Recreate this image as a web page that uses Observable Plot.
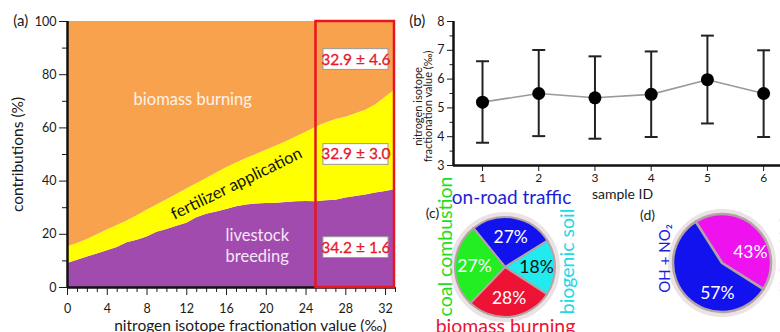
<!DOCTYPE html>
<html><head><meta charset="utf-8">
<script src="https://cdn.jsdelivr.net/npm/d3@7"></script>
<script src="https://cdn.jsdelivr.net/npm/@observablehq/plot@0.6"></script>
<style>
html,body{margin:0;padding:0;background:#fff;}
#fig{position:relative;width:780px;height:332px;overflow:hidden;font-family:Lato,sans-serif;}
#fig svg{position:absolute;overflow:visible;background:transparent;}
</style></head><body><div id="fig"></div>
<script>
// ---------------- DATA ----------------
// (a) source contributions (%) vs nitrogen isotope fractionation value
const fracValue = [0,1,2,3,4,5,6,7,8,9,10,11,12,13,14,15,16,17,18,19,20,21,22,23,24,25,26,27,28,29,30,31,32,33];
const livestockShare  = [9.0,10.2,11.5,12.6,13.8,15.0,16.8,17.8,19.0,20.8,21.8,23.0,24.2,26.2,27.5,28.4,29.3,30.4,31.0,31.4,31.6,31.7,32.0,32.2,32.3,32.2,32.6,32.8,33.6,34.2,34.8,35.5,36.1,36.8];
const fertilizerShare = [6.3,6.3,6.5,7.2,7.8,8.3,8.2,9.2,10.0,10.2,11.2,12.0,12.8,12.8,13.5,14.6,15.7,16.4,17.5,18.6,20.0,21.5,22.8,24.4,26.1,28.0,29.2,30.4,30.4,31.1,31.8,33.1,35.4,37.5];
const biomassShare    = [84.7,83.5,82.0,80.2,78.4,76.7,75.0,73.0,71.0,69.0,67.0,65.0,63.0,61.0,59.0,57.0,55.0,53.2,51.5,50.0,48.4,46.8,45.2,43.4,41.6,39.8,38.2,36.8,36.0,34.7,33.4,31.4,28.5,25.7];
const sourceNames  = ["livestock breeding","fertilizer application","biomass burning"];
const sourceColors = ["#a14bae","#ffff00","#f8a24e"];
const aYTicks = [0,20,40,60,80,100];
const aXTicks = [0,4,8,12,16,20,24,28,32];
// highlighted range results (mean ± sd), top to bottom: biomass, fertilizer, livestock
const rangeMean = [32.9,32.9,34.2];
const rangeSd   = [4.6,3.0,1.6];

// (b) nitrogen isotope fractionation value per sample
const sampleId  = [1,2,3,4,5,6];
const fracMean  = [5.20,5.50,5.35,5.47,5.98,5.50];
const fracLow   = [3.79,4.02,3.93,3.99,4.46,3.99];
const fracHigh  = [6.62,7.01,6.79,6.96,7.51,7.00];
const bYTicks = [3,4,5,6,7,8];

// (c) NOx source shares (%)
const noxSources = ["on-road traffic","biogenic soil","biomass burning","coal combustion"];
const noxShare   = [27,18,28,27];
const noxColors  = ["#1212ee","#22eaee","#ee1234","#22ee22"];
const noxText    = ["#1e1ed8","#22d8e6","#ee1234","#22dd22"];

// (d) nitrate formation pathway shares (%)
const pathways     = ["N₂O₅ + H₂O","OH + NO₂"];
const pathwayShare = [43,57];
const pathColors   = ["#ee12ee","#1212ee"];

// ---------------- LAYOUT ----------------
const fig = document.getElementById("fig");
const baseStyle = {fontFamily:"Lato, sans-serif", fontSize:"12px", color:"#1a1a1a", background:"transparent", overflow:"visible"};
function place(svg, left, top){ svg.style.left = left+"px"; svg.style.top = top+"px"; fig.appendChild(svg); }

// ---- panel (a)
const longA = [];
sourceNames.forEach((s,k)=>{
  const vals = [livestockShare, fertilizerShare, biomassShare][k];
  fracValue.forEach((x,i)=> longA.push({x, source:s, share: vals[i]}));
});
const boxes = sourceNames.slice().reverse().map((s,i)=>({source:s, label:`${rangeMean[i].toFixed(1)} ± ${rangeSd[i].toFixed(1)}`}));
const boxY = [85.7, 50.0, 15.0];
boxes.forEach((b,i)=> b.y = boxY[i]);

const plotA = Plot.plot({
  width: 396, height: 332,
  marginLeft: 67, marginTop: 21, marginBottom: 45, marginRight: 1,
  x: {domain:[0,33], axis:null},
  y: {domain:[0,100], axis:null},
  color: {domain: sourceNames, range: sourceColors},
  style: baseStyle,
  marks: [
    Plot.areaY(longA, {x:"x", y:"share", fill:"source", z:"source"}),
    Plot.axisY(aYTicks, {tickSize:8, tickPadding:3, fontSize:12.5, label:null}),
    Plot.axisY([10,30,50,70,90], {tickSize:5, tickFormat:()=>"", label:null}),
    Plot.axisX(aXTicks, {tickSize:8, tickPadding:9, fontSize:12.5, label:null}),
    Plot.axisX(fracValue.filter(v=>v%4), {tickSize:5, tickFormat:()=>"", label:null}),
    Plot.ruleX([0], {strokeWidth:2.5, stroke:"#111"}),
    Plot.ruleY([0], {strokeWidth:2.5, stroke:"#111"}),
    Plot.rect([0], {x1:25, x2:33, y1:0, y2:100, stroke:"#e8141e", strokeWidth:2.5, fill:"none", insetRight:1}),
    Plot.rect(boxes, {x1:25.75, x2:32.3, y1:d=>d.y-3.9, y2:d=>d.y+3.9, fill:"white", stroke:"#9a9a9a", strokeWidth:1}),
    Plot.text(boxes, {x:29.02, y:"y", text:"label", fill:"#e8192c", fontSize:15.5, stroke:"#e8192c", strokeWidth:0.3}),
    Plot.text(["biomass burning"], {x:12.6, y:70.7, fill:"#fdf3ea", fontSize:16.5}),
    Plot.text(["fertilizer application"], {x:17.0, y:39.0, rotate:-26, fill:"#111", fontSize:16.5}),
    Plot.text(["livestock\nbreeding"], {x:15.9, y:16.0, textAnchor:"start", lineHeight:1.25, fill:"#f6e6f6", fontSize:16.5}),
    Plot.text(["contributions (%)"], {x:-4.95, y:50, rotate:-90, fontSize:15.5, fill:"#1a1a1a"}),
    Plot.text(["nitrogen isotope fractionation value (‰)"], {x:18.4, y:-14.3, fontSize:15.5, fill:"#1a1a1a"}),
    Plot.text(["(a)"], {x:-4.7, y:100, fontSize:15, fill:"#1a1a1a"})
  ]
});
place(plotA, 0, 0);

// ---- panel (b)
const rowsB = sampleId.map((id,i)=>({id, mean:fracMean[i], low:fracLow[i], high:fracHigh[i]}));
const xDomB = [0.484, 6.30];
const capHalf = 0.115;
const plotB = Plot.plot({
  width: 390, height: 200,
  marginLeft: 63, marginTop: 21, marginBottom: 35, marginRight: 0,
  x: {domain:xDomB, axis:null},
  y: {domain:[3,8], axis:null},
  style: baseStyle,
  marks: [
    Plot.axisY(bYTicks, {tickSize:6, tickPadding:3, fontSize:12.5, label:null}),
    Plot.axisY([3.5,4.5,5.5,6.5,7.5], {tickSize:3.5, tickFormat:()=>"", label:null}),
    Plot.axisX(sampleId, {tickSize:6, tickPadding:2, fontSize:12, label:null}),
    Plot.ruleX([xDomB[0]], {strokeWidth:2.5, stroke:"#111"}),
    Plot.ruleY([3], {strokeWidth:2.5, stroke:"#111"}),
    Plot.line(rowsB, {x:"id", y:"mean", stroke:"#9a9a9a", strokeWidth:1.6}),
    Plot.ruleX(rowsB, {x:"id", y1:"low", y2:"high", stroke:"#222", strokeWidth:2}),
    Plot.link(rowsB, {x1:d=>d.id-capHalf, x2:d=>d.id+capHalf, y1:"high", y2:"high", stroke:"#222", strokeWidth:2}),
    Plot.link(rowsB, {x1:d=>d.id-capHalf, x2:d=>d.id+capHalf, y1:"low", y2:"low", stroke:"#222", strokeWidth:2}),
    Plot.dot(rowsB, {x:"id", y:"mean", r:6.5, fill:"#000"}),
    Plot.text(["sample ID"], {x:3.49, y:1.98, fontSize:14, fill:"#1a1a1a"}),
    Plot.text(["nitrogen isotope\nfractionation value (‰)"], {x:-0.05, y:5.05, rotate:-90, lineHeight:0.95, fontSize:11, fill:"#1a1a1a"}),
    Plot.text(["(b)"], {x:-0.16, y:8, fontSize:15, fill:"#1a1a1a"})
  ]
});
place(plotB, 390, 0);

// ---- pie helper (a render-only Plot mark)
function pieMark(values, colors, {cx, cy, r, startDeg, sepWidth}) {
  return (index, scales) => {
    const X = scales && scales.x ? scales.x(cx) : cx;
    const Y = scales && scales.y ? scales.y(cy) : cy;
    const a0 = startDeg*Math.PI/180;
    const arcs = d3.pie().sort(null).startAngle(a0).endAngle(a0+2*Math.PI)(values);
    const arc = d3.arc().innerRadius(0).outerRadius(r);
    const g = d3.create("svg:g").attr("transform", `translate(${X},${Y})`);
    g.append("circle").attr("r", r+2.5).attr("fill","none").attr("stroke","#ebe3e3").attr("stroke-width",5);
    g.selectAll("path").data(arcs).join("path")
      .attr("d", arc).attr("fill",(d,i)=>colors[i])
      .attr("stroke","#b3a3a5").attr("stroke-width",sepWidth).attr("stroke-linejoin","round");
    return g.node();
  };
}
function pieLabels(values, {cx, cy, rl, startDeg, angles}) {
  const a0 = startDeg*Math.PI/180;
  const arcs = d3.pie().sort(null).startAngle(a0).endAngle(a0+2*Math.PI)(values);
  return arcs.map((d,i)=>{
    const a = angles ? angles[i]*Math.PI/180 : (d.startAngle+d.endAngle)/2;
    return {x: cx + rl*Math.sin(a), y: cy - rl*Math.cos(a), text: `${values[i]}%`, i};
  });
}

// ---- panel (c)
const W = 180, H = 162;
const pieC = {cx:105, cy:97, r:50, startDeg:-39, sepWidth:2};
const labC = pieLabels(noxShare, {...pieC, rl:31});
const plotC = Plot.plot({
  width: W, height: H, margin: 0,
  x: {domain:[0,W], range:[0,W], axis:null},
  y: {domain:[0,H], range:[0,H], axis:null},
  style: baseStyle,
  marks: [
    pieMark(noxShare, noxColors, pieC),
    Plot.text(labC, {x:"x", y:"y", text:"text", fontSize:17.5, fill:d=> noxSources[d.i]==="biogenic soil" ? "#111" : "#fff"}),
    Plot.text([noxSources[0]], {x:111, y:27, fill:noxText[0], fontSize:19}),
    Plot.text([noxSources[1]], {x:167, y:91, rotate:-90, fill:noxText[1], fontSize:19.5}),
    Plot.text([noxSources[2]], {x:105, y:156, fill:noxText[2], fontSize:19.5}),
    Plot.text([noxSources[3]], {x:45, y:76, rotate:-90, fill:noxText[3], fontSize:19.5}),
    Plot.text(["(c)"], {x:32, y:43, fontSize:14, fill:"#1a1a1a"})
  ]
});
place(plotC, 400, 170);

// ---- panel (d)
const pieD = {cx:122, cy:93, r:49, startDeg:-32.5, sepWidth:2.5};
const labD = pieLabels(pathwayShare, {...pieD, rl:30, angles:[68,190]});
const plotD = Plot.plot({
  width: W, height: H, margin: 0,
  x: {domain:[0,W], range:[0,W], axis:null},
  y: {domain:[0,H], range:[0,H], axis:null},
  style: baseStyle,
  marks: [
    pieMark(pathwayShare, pathColors, pieD),
    Plot.text(labD, {x:"x", y:"y", text:"text", fontSize:17.5, fill:"#fff"}),
    Plot.text([pathways[1]], {x:65, y:88, rotate:-90, fill:"#1e1ed8", fontSize:15}),
    Plot.text([pathways[0]], {x:185.5, y:122, rotate:-90, textAnchor:"start", fill:"#dd12dd", fontSize:15}),
    Plot.text(["(d)"], {x:47, y:45, fontSize:14, fill:"#1a1a1a"})
  ]
});
place(plotD, 600, 170);
</script></body></html>
